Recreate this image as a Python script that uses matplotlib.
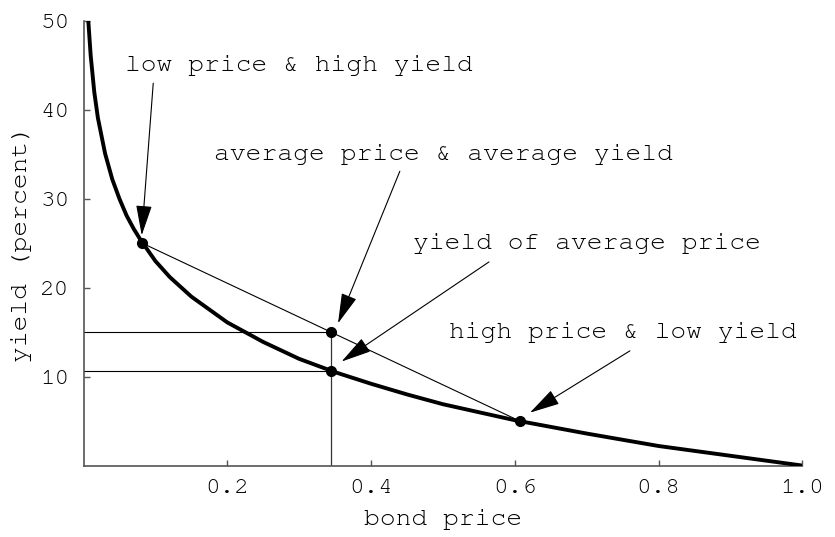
import matplotlib.pyplot as plt

# curve: bond price vs yield (percent)
price = [0.0067, 0.01, 0.015, 0.02, 0.03, 0.04, 0.05, 0.06, 0.07, 0.08,
         0.10, 0.12, 0.15, 0.20, 0.25, 0.30, 0.35, 0.40, 0.45, 0.50,
         0.60, 0.70, 0.80, 0.90, 1.00]
yield_pct = [50.0, 46.1, 42.0, 39.1, 35.1, 32.2, 30.0, 28.1, 26.6, 25.3,
             23.0, 21.2, 19.0, 16.1, 13.9, 12.0, 10.5, 9.2, 8.0, 6.9,
             5.1, 3.6, 2.2, 1.1, 0.0]

# marked points
low_pt = (0.082, 25.0)
high_pt = (0.607, 5.0)
avg_pt = (0.3445, 15.0)
yavg_pt = (0.3445, 10.66)

labels = ["low price & high yield", "average price & average yield",
          "yield of average price", "high price & low yield"]
label_pos = [(0.30, 45.0), (0.50, 35.0), (0.70, 25.0), (0.75, 15.0)]
arrow_tail = [(0.097, 43.0), (0.440, 33.1), (0.564, 22.9), (0.760, 12.9)]
arrow_tip = [(0.081, 25.9), (0.354, 16.0), (0.359, 11.7), (0.621, 5.95)]

plt.rcParams['font.family'] = ['Nimbus Mono PS', 'FreeMono', 'Courier New', 'Liberation Mono', 'DejaVu Sans Mono']

fig = plt.figure(figsize=(8.35, 5.37), dpi=100)
ax = fig.add_axes([0.1, 0.133, 0.861, 0.828])

ax.plot(price, yield_pct, color='black', lw=2.8, solid_joinstyle='miter', zorder=3)

# chord and guide lines
ax.plot([low_pt[0], high_pt[0]], [low_pt[1], high_pt[1]], color='black', lw=0.8)
ax.plot([0, avg_pt[0]], [avg_pt[1], avg_pt[1]], color='black', lw=0.8)
ax.plot([0, yavg_pt[0]], [yavg_pt[1], yavg_pt[1]], color='black', lw=0.8)
ax.plot([avg_pt[0], avg_pt[0]], [0, avg_pt[1]], color='#333333', lw=0.9)

for p in [low_pt, high_pt, avg_pt, yavg_pt]:
    ax.plot(p[0], p[1], 'o', color='black', ms=7, zorder=4)

for lab, pos, tail, tip in zip(labels, label_pos, arrow_tail, arrow_tip):
    ax.text(pos[0], pos[1], lab, ha='center', va='center', fontsize=19)
    ax.annotate('', xy=tip, xytext=tail,
                arrowprops=dict(arrowstyle='-|>,head_length=1.9,head_width=0.5',
                                mutation_scale=10, lw=0.8, color='black',
                                shrinkA=0, shrinkB=0))

ax.set_xlim(0, 1.0)
ax.set_ylim(0, 50)
ax.set_xticks([0.2, 0.4, 0.6, 0.8, 1.0])
ax.set_xticklabels(["0.2", "0.4", "0.6", "0.8", "1.0"])
ax.set_yticks([10, 20, 30, 40, 50])
ax.tick_params(direction='in', length=4, width=1, color='#555555',
               labelsize=17.5, pad=10)
ax.spines['top'].set_visible(False)
ax.spines['right'].set_visible(False)
for s in ['left', 'bottom']:
    ax.spines[s].set_color('#555555')
    ax.spines[s].set_linewidth(1.2)

ax.set_xlabel("bond price", fontsize=19, labelpad=8)
ax.set_ylabel("yield (percent)", fontsize=19, labelpad=6)

fig.savefig("out.png", dpi=100)
